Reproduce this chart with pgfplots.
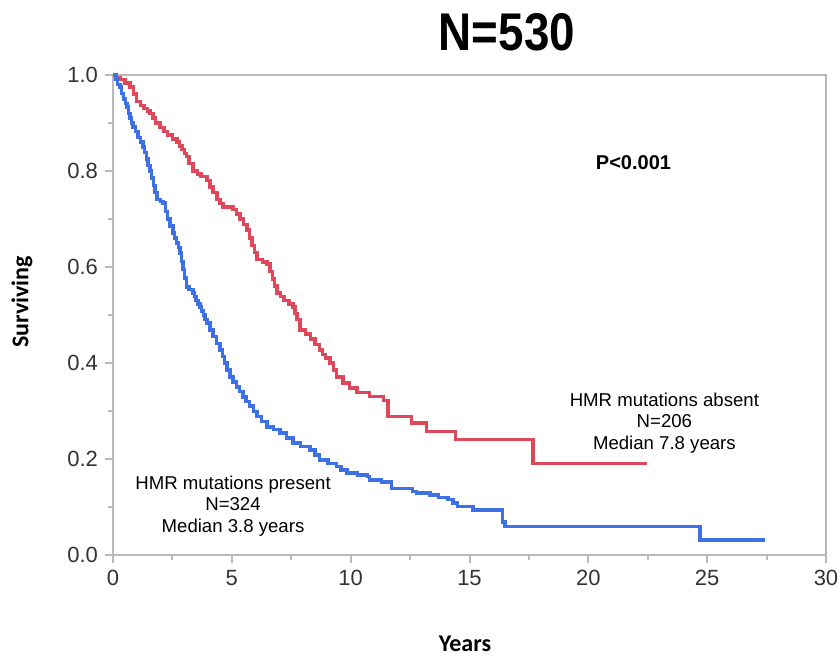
\documentclass[border=0pt]{standalone}
\usepackage{pgfplots}
\pgfplotsset{compat=1.18}
\usepackage{fontspec}
\setmainfont{Liberation Sans}
\newfontfamily\calfont{Carlito}
\definecolor{kmred}{RGB}{222,72,90}
\definecolor{kmblue}{RGB}{62,112,230}
\definecolor{frame}{RGB}{185,185,185}

\begin{document}
\begin{tikzpicture}
% page = 840x657 px at 0.5pt/px, axis box lower left at (0,0)
\path[use as bounding box] (-56.5pt,-51pt) rectangle (363.5pt,277.5pt);
\begin{axis}[
    at={(0,0)}, anchor=south west,
    scale only axis,
    width=356.5pt, height=240pt,
    xmin=0, xmax=30, ymin=0, ymax=1,
    xtick={0,5,...,30},
    ytick={0,0.2,...,1.0},
    minor x tick num=1,
    minor y tick num=1,
    xtick pos=left, ytick pos=left,
    tick align=outside,
    major tick length=4pt,
    minor tick length=2.5pt,
    axis line style={frame, line width=1pt},
    every tick/.style={frame, line width=1pt},
    tick label style={font=\fontsize{11}{13}\selectfont, text=black!80},
    /pgf/number format/assume math mode=true,
    /pgf/number format/.cd, fixed, fixed zerofill, precision=1,
    /pgfplots/.cd,
    xticklabel={\pgfmathprintnumber[fixed,precision=0]{\tick}},
    clip=false,
]
% HMR mutations absent
\addplot[const plot, color=kmred, line width=1.7pt] coordinates {
(0,1.0) (0.15,0.995) (0.3,0.99) (0.5,0.983) (0.72,0.975) (0.85,0.96)
(1.0,0.945) (1.15,0.937) (1.3,0.93) (1.45,0.925) (1.56,0.92) (1.68,0.91)
(1.8,0.90) (1.98,0.89) (2.15,0.882) (2.3,0.875) (2.5,0.867) (2.69,0.86)
(2.8,0.852) (2.9,0.845) (3.0,0.837) (3.1,0.83) (3.2,0.815) (3.37,0.80)
(3.55,0.794) (3.7,0.788) (3.95,0.78) (4.08,0.767) (4.2,0.755) (4.37,0.74)
(4.5,0.732) (4.63,0.725) (5.05,0.72) (5.2,0.71) (5.35,0.70) (5.5,0.688)
(5.64,0.677) (5.75,0.66) (5.85,0.645) (5.95,0.63) (6.06,0.615) (6.3,0.61)
(6.48,0.606) (6.6,0.59) (6.7,0.575) (6.8,0.56) (6.9,0.546) (7.05,0.538)
(7.2,0.53) (7.4,0.523) (7.57,0.517) (7.65,0.503) (7.75,0.49) (7.87,0.469)
(8.1,0.46) (8.3,0.45) (8.5,0.438) (8.7,0.427) (8.82,0.418) (8.95,0.41)
(9.13,0.40) (9.27,0.385) (9.41,0.371) (9.68,0.358) (9.95,0.348) (10.26,0.338)
(10.8,0.33) (11.37,0.322) (11.57,0.288) (12.57,0.275) (13.2,0.257)
(14.4,0.24) (17.67,0.191) (22.45,0.191)
};
% HMR mutations present
\addplot[const plot, color=kmblue, line width=1.7pt] coordinates {
(0,1.0) (0.1,0.99) (0.2,0.98) (0.29,0.975) (0.37,0.962) (0.45,0.95)
(0.52,0.94) (0.59,0.933) (0.66,0.92) (0.72,0.91) (0.78,0.90) (0.84,0.892)
(0.95,0.882) (1.05,0.87) (1.15,0.86) (1.26,0.85) (1.33,0.838) (1.4,0.825)
(1.48,0.812) (1.56,0.80) (1.63,0.785) (1.7,0.77) (1.77,0.755) (1.85,0.74)
(2.0,0.737) (2.1,0.733) (2.2,0.715) (2.3,0.70) (2.4,0.685) (2.52,0.671)
(2.6,0.66) (2.68,0.65) (2.75,0.64) (2.82,0.629) (2.88,0.612) (2.95,0.595)
(3.02,0.577) (3.1,0.558) (3.2,0.553) (3.37,0.546) (3.43,0.538) (3.5,0.53)
(3.58,0.523) (3.66,0.517) (3.73,0.508) (3.8,0.50) (3.87,0.491) (3.95,0.483)
(4.08,0.469) (4.2,0.455) (4.35,0.441) (4.5,0.427) (4.6,0.413) (4.7,0.40)
(4.8,0.385) (4.92,0.371) (5.05,0.36) (5.2,0.35) (5.33,0.34) (5.47,0.329)
(5.6,0.32) (5.75,0.31) (5.9,0.299) (6.06,0.288) (6.25,0.278) (6.48,0.267)
(6.75,0.261) (7.03,0.254) (7.3,0.244) (7.57,0.233) (7.9,0.226) (8.29,0.219)
(8.5,0.208) (8.7,0.198) (9.05,0.191) (9.41,0.184) (9.6,0.177) (9.84,0.171)
(10.3,0.167) (10.7,0.163) (10.8,0.156) (11.3,0.152) (11.73,0.139)
(12.6,0.132) (12.78,0.129) (13.34,0.125) (13.7,0.12) (14.1,0.115)
(14.3,0.108) (14.5,0.101) (15.15,0.094) (16.4,0.069) (16.5,0.059)
(24.69,0.031) (27.43,0.031)
};
\node[align=center, font=\fontsize{9.3}{10.8}\selectfont] at (axis cs:5.05,0.102)
    {HMR mutations present\\N=324\\Median 3.8 years};
\node[align=center, font=\fontsize{9.3}{10.8}\selectfont] at (axis cs:23.2,0.275)
    {HMR mutations absent\\N=206\\Median 7.8 years};
\node[font=\fontsize{10}{12}\selectfont\bfseries] at (axis cs:21.9,0.817) {P<0.001};
\end{axis}
% title and axis labels
\node[font=\fontsize{26}{30}\selectfont\bfseries] at (197pt,261.5pt) {\scalebox{0.88}[1.02]{N=530}};
\node[font=\fontsize{12}{14}\selectfont\calfont\bfseries] at (176pt,-44.5pt) {Years};
\node[font=\fontsize{12}{14}\selectfont\calfont\bfseries, rotate=90] at (-45.5pt,126.5pt) {Surviving};
\end{tikzpicture}
\end{document}
